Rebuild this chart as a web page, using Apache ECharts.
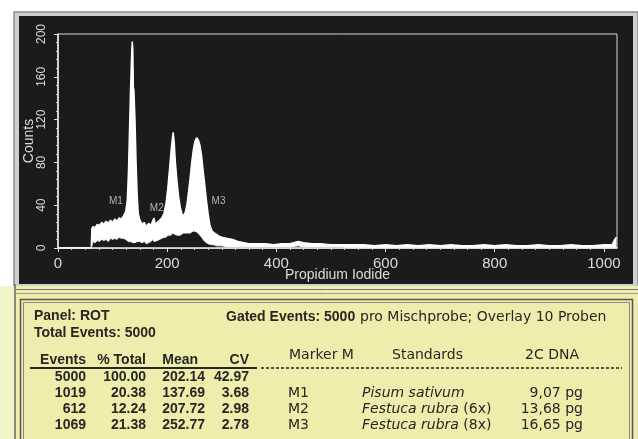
<!DOCTYPE html>
<html><head><meta charset="utf-8">
<script src="https://cdn.jsdelivr.net/npm/echarts@6/dist/echarts.min.js"></script>
<style>html,body{margin:0;padding:0;background:#fff}#c{width:638px;height:439px}</style>
</head><body><div id="c"></div>
<script>
// ---- histogram data (channel, upper envelope, lower envelope of 10 overlaid samples) ----
const channels = [0,61,62,64,68,72,76,80,84,88,92,96,100,104,108,112,116,120,124,127,129,131,133,135,136,137,138,139,141,143,145,147,150,154,158,162,166,170,174,176,178,182,186,190,194,198,201,204,207,209,211,213,215,218,221,224,227,230,233,236,239,242,245,248,251,254,257,260,263,266,269,272,275,278,282,286,290,295,300,310,320,330,340,350,365,380,395,410,425,440,450,465,480,500,520,540,560,580,600,620,640,660,680,700,720,740,760,780,800,820,840,860,880,900,920,940,960,980,1000,1015,1020,1023];
const upperCounts = [0,0,18,20,19,22,21,24,22,25,23,26,24,27,25,28,27,30,34,45,70,110,150,182,193,185,150,148,120,80,50,32,26,22,24,20,23,21,26,28,22,24,26,28,32,42,55,72,90,100,108,98,80,62,48,38,32,30,33,40,52,65,80,92,100,103,101,96,86,72,58,44,32,22,16,14,13,11,10,9,8,6,5,4,4,4,3,4,4,6,5,4,4,3,3,3,3,2,3,2,3,2,3,2,3,2,2,3,2,3,2,2,3,2,2,3,2,2,3,3,8,10];
const lowerCounts = [0,0,0,6,5,7,6,8,7,8,6,9,8,9,8,10,9,9,8,7,6,6,6,5,5,5,6,6,5,5,6,7,
  6,5,6,4,5,6,8,6,5,7,8,9,10,10,12,12,12,14,14,13,12,12,12,12,
  13,14,14,14,14,14,15,16,16,15,14,12,10,8,6,5,4,3,
  3,3,2,2,2,1,1,1,1,1,1,1,1,1,1,2,1,1,1,1,1,0,0,0,0,0,0,0,0,0,0,0,0,0,0,0,0,0,0,0,0,0,0,0,0,0,0];
// marker labels
const markerNames = ['M1','M2','M3'];
const markerChannels = [106,181,294];
const markerCounts = [44,37,44];
// axis ticks
const xTicks = [0,200,400,600,800,1000];
const yTicks = [0,40,80,120,160,200];

// ---- table data ----
const panelText = 'Panel: ROT';
const totalText = 'Total Events: 5000';
const gatedBold = 'Gated Events: 5000';
const gatedRest = 'pro Mischprobe; Overlay 10 Proben';
const headLeft = ['Events','% Total','Mean','CV'];
const headRight = ['Marker M','Standards','2C DNA'];
const events = ['5000','1019','612','1069'];
const pctTotal = ['100.00','20.38','12.24','21.38'];
const means = ['202.14','137.69','207.72','252.77'];
const cvs = ['42.97','3.68','2.98','2.78'];
const markers = ['','M1','M2','M3'];
const species = ['','Pisum sativum','Festuca rubra','Festuca rubra'];
const ploidy = ['','','(6x)','(8x)'];
const dnaC = ['','9,07 pg','13,68 pg','16,65 pg'];

const upperData = channels.map((c,i)=>[c,upperCounts[i]]);
const lowerData = channels.map((c,i)=>[c,lowerCounts[i]]);
const markerData = markerNames.map((n,i)=>({name:n,value:[markerChannels[i],markerCounts[i]]}));

const chartFont = '"Liberation Sans Narrow","Liberation Sans",sans-serif';
const boldFont = 'bold 14px "Liberation Sans", Arial, sans-serif';
const dinFont = '14px "DejaVu Sans", sans-serif';
const dinItal = 'italic 14px "DejaVu Sans", sans-serif';
const ink = '#262626';

function txt(text, x, y, font, align, extra){
  return Object.assign({type:'text', x:x, y:y, z:20, silent:true,
    style:{text:text, font:font, fill:ink, align:align||'left', textAlign:align||'left',
      verticalAlign:'middle', textVerticalAlign:'middle'}}, extra||{});
}

const graphics = [
  {type:'rect', z:-10, silent:true, shape:{x:14,y:12,width:624,height:275}, style:{fill:'#cfcfcf', stroke:'#8a8a8a', lineWidth:1.5}},
  {type:'rect', z:-9, silent:true, shape:{x:19,y:16,width:614,height:268}, style:{fill:'#1b1b1b'}},
  {type:'rect', z:-8, silent:true, shape:{x:0,y:286,width:638,height:153}, style:{fill:'#eeeeac'}},
  {type:'rect', z:-8, silent:true, shape:{x:0,y:286,width:14,height:153}, style:{fill:'#f3f3c8'}},
  {type:'line', z:-7, silent:true, shape:{x1:15,y1:284,x2:15,y2:439}, style:{stroke:'#666', lineWidth:1.5}},
  {type:'line', z:-7, silent:true, shape:{x1:15,y1:289.5,x2:638,y2:289.5}, style:{stroke:'#777', lineWidth:1}},
  {type:'line', z:-7, silent:true, shape:{x1:15,y1:293.5,x2:638,y2:293.5}, style:{stroke:'#999', lineWidth:1}},
  {type:'rect', z:-7, silent:true, shape:{x:20.5,y:299.5,width:612,height:150}, style:{fill:'none', stroke:'#555', lineWidth:1.5}},
  {type:'rect', z:-7, silent:true, shape:{x:23.5,y:302.5,width:606,height:150}, style:{fill:'none', stroke:'#888', lineWidth:1}},
  {type:'line', z:-6, silent:true, shape:{x1:30,y1:368,x2:257,y2:368}, style:{stroke:ink, lineWidth:2}},
  {type:'line', z:-6, silent:true, shape:{x1:261,y1:368,x2:622,y2:368}, style:{stroke:ink, lineWidth:1.3, lineDash:[3,2]}},
  txt(panelText, 34, 316, boldFont),
  txt(totalText, 34, 333, boldFont),
  txt(gatedBold, 226, 317, boldFont),
  txt(gatedRest, 360, 317, dinFont),
  txt(headLeft[0], 86, 360, boldFont, 'right'),
  txt(headLeft[1], 146, 360, boldFont, 'right'),
  txt(headLeft[2], 198, 360, boldFont, 'right'),
  txt(headLeft[3], 249, 360, boldFont, 'right'),
  txt(headRight[0], 289, 355, dinFont),
  txt(headRight[1], 392, 355, dinFont),
  txt(headRight[2], 552, 355, dinFont, 'center')
];
const rowY = [377, 393, 409, 425];
for (let i=0;i<events.length;i++){
  const y = rowY[i];
  graphics.push(txt(events[i], 86, y, boldFont, 'right'));
  graphics.push(txt(pctTotal[i], 146, y, boldFont, 'right'));
  graphics.push(txt(means[i], 205, y, boldFont, 'right'));
  graphics.push(txt(cvs[i], 249, y, boldFont, 'right'));
  if (markers[i]) graphics.push(txt(markers[i], 288, y, dinFont));
  if (species[i]) graphics.push({type:'text', x:362, y:y, z:20, silent:true,
    style:{text:'{i|'+species[i]+'}'+(ploidy[i]?' '+ploidy[i]:''), font:dinFont, fill:ink,
      verticalAlign:'middle', textVerticalAlign:'middle',
      rich:{i:{font:dinItal, fill:ink}}}});
  if (dnaC[i]) graphics.push(txt(dnaC[i], 583, y, dinFont, 'right'));
}

const chart = echarts.init(document.getElementById('c'), null, {renderer:'canvas'});
chart.setOption({
  backgroundColor:'#ffffff',
  animation:false,
  graphic:{elements:graphics},
  grid:{left:58, top:34, right:21, bottom:191, show:true, borderColor:'#d8d8d8', borderWidth:1, backgroundColor:'transparent'},
  xAxis:{type:'value', min:0, max:1024, interval:200, z:5,
    name:'Propidium Iodide', nameLocation:'middle', nameGap:20, nameMoveOverlap:false,
    nameTextStyle:{color:'#dcdcdc', fontSize:14, fontFamily:chartFont},
    axisLine:{show:true, lineStyle:{color:'#f2f2f2', width:1.5}},
    axisTick:{show:true, length:4, lineStyle:{color:'#e8e8e8'}, customValues:xTicks},
    minorTick:{show:true, splitNumber:8, length:2, lineStyle:{color:'#cfcfcf'}},
    axisLabel:{color:'#dcdcdc', fontSize:15, fontFamily:chartFont, margin:8, customValues:xTicks,
      formatter:function(v){return String(v);}},
    splitLine:{show:false}},
  yAxis:{type:'value', min:0, max:200, interval:40, z:5,
    name:'Counts', nameLocation:'middle', nameGap:22, nameMoveOverlap:false,
    nameTextStyle:{color:'#dcdcdc', fontSize:14, fontFamily:chartFont},
    axisLine:{show:true, lineStyle:{color:'#f2f2f2', width:1.5}},
    axisTick:{show:true, length:4, lineStyle:{color:'#e8e8e8'}},
    minorTick:{show:true, splitNumber:5, length:2, lineStyle:{color:'#cfcfcf'}},
    axisLabel:{color:'#dcdcdc', fontSize:12, fontFamily:chartFont, rotate:90, margin:10, customValues:yTicks,
      formatter:function(v){return String(v);}},
    splitLine:{show:false}},
  series:[
    {type:'line', data:upperData, showSymbol:false, symbol:'none', z:2,
      lineStyle:{color:'#ffffff', width:1.5}, areaStyle:{color:'#ffffff', opacity:1}},
    {type:'line', data:lowerData, showSymbol:false, symbol:'none', z:3,
      lineStyle:{color:'#f4f4f4', width:1}, areaStyle:{color:'#1b1b1b', opacity:1}},
    {type:'scatter', data:markerData, symbolSize:0, z:4,
      label:{show:true, position:'inside', formatter:'{b}', color:'#d8d8d8', fontSize:10, fontFamily:chartFont}}
  ]
});
</script></body></html>
